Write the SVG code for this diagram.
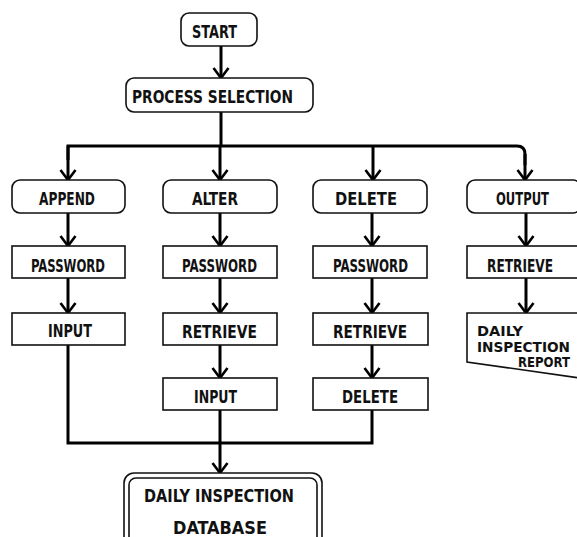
<svg xmlns="http://www.w3.org/2000/svg" width="577" height="537" viewBox="0 0 577 537">
  <defs>
    <marker id="arrow" viewBox="-12 -10 14 20" refX="0" refY="0" markerWidth="14" markerHeight="20" markerUnits="userSpaceOnUse" orient="auto">
      <path d="M-10,-7.5 L0,0 L-10,7.5" fill="none" stroke="#000" stroke-width="2.6"/>
    </marker>
    <style>
      .box { fill: #fff; stroke: #111; stroke-width: 1.6; }
      .wire { fill: none; stroke: #000; stroke-width: 3; }
      .arr { fill: none; stroke: #000; stroke-width: 3; marker-end: url(#arrow); }
      text { font-family: "DejaVu Sans Condensed", "DejaVu Sans", sans-serif; font-weight: bold; font-size: 18px; fill: #111; }
      .sm { font-size: 13.5px; }
    </style>
  </defs>
  <rect width="577" height="537" fill="#fff"/>

  <!-- connectors -->
  <g id="connectors">
    <path class="arr" d="M221,46 V78"/>
    <path class="wire" d="M221,112 V146"/>
    <path class="wire" d="M68,160 V146 H517 Q525,146 525,154 V165"/>
    <path class="arr" d="M68,146 V180"/>
    <path class="arr" d="M220,146 V180"/>
    <path class="arr" d="M373,146 V180"/>
    <path class="arr" d="M525,154 V180"/>
    <!-- append column -->
    <path class="arr" d="M68,213 V246"/>
    <path class="arr" d="M68,278 V313"/>
    <!-- alter column -->
    <path class="arr" d="M220,213 V246"/>
    <path class="arr" d="M220,278 V313"/>
    <path class="arr" d="M220,345 V378"/>
    <!-- delete column -->
    <path class="arr" d="M372,213 V246"/>
    <path class="arr" d="M372,278 V313"/>
    <path class="arr" d="M372,345 V378"/>
    <!-- output column -->
    <path class="arr" d="M526,213 V246"/>
    <path class="arr" d="M526,278 V313"/>
    <!-- merge into database -->
    <path class="wire" d="M68,345 V443 H372 V410"/>
    <path class="arr" d="M220,410 V473"/>
  </g>

  <g id="start">
    <rect class="box" x="181" y="13" width="76" height="33" rx="8"/>
    <text x="192" y="38" textLength="45" lengthAdjust="spacingAndGlyphs">START</text>
  </g>
  <g id="process-selection">
    <rect class="box" x="126" y="78" width="187" height="34" rx="8"/>
    <text x="132" y="103" textLength="161" lengthAdjust="spacingAndGlyphs">PROCESS SELECTION</text>
  </g>

  <g id="append">
    <rect class="box" x="12" y="180" width="113" height="33" rx="8"/>
    <text x="39" y="205" textLength="56" lengthAdjust="spacingAndGlyphs">APPEND</text>
  </g>
  <g id="alter">
    <rect class="box" x="163" y="180" width="114" height="33" rx="8"/>
    <text x="192" y="205" textLength="46" lengthAdjust="spacingAndGlyphs">ALTER</text>
  </g>
  <g id="delete">
    <rect class="box" x="313" y="180" width="114" height="33" rx="8"/>
    <text x="335" y="205" textLength="62" lengthAdjust="spacingAndGlyphs">DELETE</text>
  </g>
  <g id="output">
    <rect class="box" x="467" y="180" width="114" height="33" rx="8"/>
    <text x="496" y="205" textLength="53" lengthAdjust="spacingAndGlyphs">OUTPUT</text>
  </g>

  <g id="append-password">
    <rect class="box" x="12" y="246" width="113" height="32"/>
    <text x="31" y="272" textLength="74" lengthAdjust="spacingAndGlyphs">PASSWORD</text>
  </g>
  <g id="alter-password">
    <rect class="box" x="163" y="246" width="114" height="32"/>
    <text x="182" y="272" textLength="75" lengthAdjust="spacingAndGlyphs">PASSWORD</text>
  </g>
  <g id="delete-password">
    <rect class="box" x="313" y="246" width="114" height="32"/>
    <text x="333" y="272" textLength="75" lengthAdjust="spacingAndGlyphs">PASSWORD</text>
  </g>
  <g id="output-retrieve">
    <rect class="box" x="467" y="246" width="114" height="32"/>
    <text x="487" y="272" textLength="66" lengthAdjust="spacingAndGlyphs">RETRIEVE</text>
  </g>

  <g id="append-input">
    <rect class="box" x="12" y="313" width="113" height="32"/>
    <text x="48" y="337" textLength="44" lengthAdjust="spacingAndGlyphs">INPUT</text>
  </g>
  <g id="alter-retrieve">
    <rect class="box" x="163" y="313" width="114" height="32"/>
    <text x="182" y="338" textLength="75" lengthAdjust="spacingAndGlyphs">RETRIEVE</text>
  </g>
  <g id="delete-retrieve">
    <rect class="box" x="313" y="313" width="115" height="32"/>
    <text x="333" y="338" textLength="74" lengthAdjust="spacingAndGlyphs">RETRIEVE</text>
  </g>

  <g id="alter-input">
    <rect class="box" x="163" y="378" width="114" height="32"/>
    <text x="194" y="403" textLength="43" lengthAdjust="spacingAndGlyphs">INPUT</text>
  </g>
  <g id="delete-delete">
    <rect class="box" x="313" y="378" width="115" height="32"/>
    <text x="342" y="403" textLength="56" lengthAdjust="spacingAndGlyphs">DELETE</text>
  </g>

  <!-- printed report (document symbol) -->
  <g id="daily-inspection-report">
    <path class="box" d="M580,313 H467 V362 L580,378" fill="#fff"/>
    <text class="sm" x="477" y="336" textLength="46" lengthAdjust="spacingAndGlyphs">DAILY</text>
    <text class="sm" x="477" y="351.5" textLength="93" lengthAdjust="spacingAndGlyphs">INSPECTION</text>
    <text class="sm" x="518" y="367" textLength="52" lengthAdjust="spacingAndGlyphs">REPORT</text>
  </g>

  <!-- stored file (double outline) -->
  <g id="daily-inspection-database">
    <rect class="box" x="124" y="473" width="198" height="80" rx="10"/>
    <rect class="box" x="129" y="478" width="188" height="80" rx="7"/>
    <text x="144" y="502" textLength="150" lengthAdjust="spacingAndGlyphs">DAILY INSPECTION</text>
    <text x="173" y="534" textLength="94" lengthAdjust="spacingAndGlyphs">DATABASE</text>
  </g>
</svg>
